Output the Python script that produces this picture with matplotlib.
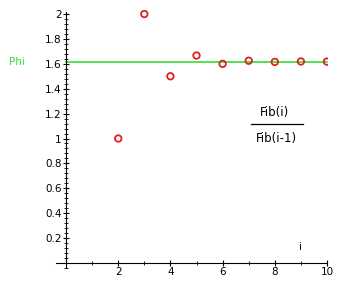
import matplotlib.pyplot as plt
from matplotlib.ticker import MultipleLocator

# Ratio of consecutive Fibonacci numbers
i_vals = [2, 3, 4, 5, 6, 7, 8, 9, 10]
ratios = [1.0, 2.0, 1.5, 1.6667, 1.6, 1.625, 1.6154, 1.6190, 1.6176]
phi = 1.618

fig = plt.figure(figsize=(3.53, 2.90), dpi=100)
ax = fig.add_axes([0.1575, 0.0717, 0.7725, 0.8928])

ax.plot([0, 10], [phi, phi], color='#33dd33', lw=1.2, zorder=1)
ax.scatter(i_vals, ratios, s=22, facecolors='none', edgecolors='#e02020',
           linewidths=1.3, zorder=3)

ax.set_xlim(-0.4, 10.05)
ax.set_ylim(-0.05, 2.03)

ax.spines['left'].set_position(('data', 0))
ax.spines['bottom'].set_position(('data', 0))
ax.spines['top'].set_visible(False)
ax.spines['right'].set_visible(False)
ax.spines['left'].set_bounds(-0.04, 2.02)
ax.spines['bottom'].set_bounds(-0.4, 10)

ax.xaxis.set_minor_locator(MultipleLocator(1))
ax.yaxis.set_minor_locator(MultipleLocator(0.04))

ax.set_xticks([2, 4, 6, 8, 10])
ax.set_xticklabels(['2', '4', '6', '8', '10'])
yt = [0.2, 0.4, 0.6, 0.8, 1.0, 1.2, 1.4, 1.6, 1.8, 2.0]
ax.set_yticks(yt)
ax.set_yticklabels(['0.2', '0.4', '0.6', '0.8', '1', '1.2', '1.4', '1.6', '1.8', '2'])

ax.tick_params(axis='both', which='major', labelsize=7.5, length=4, width=0.8,
               direction='inout', pad=1)
ax.tick_params(axis='both', which='minor', length=2.5, width=0.6, direction='inout')

ax.text(-1.9, phi, 'Phi', color='#33dd33', fontsize=7.5, ha='center', va='center',
        clip_on=False)
ax.text(8.0, 1.205, 'Fib(i)', fontsize=8.5, ha='center', va='center')
ax.plot([7.1, 9.1], [1.12, 1.12], color='black', lw=0.9)
ax.text(8.08, 1.0, 'Fib(i-1)', fontsize=8.5, ha='center', va='center')
ax.text(9.0, 0.13, 'i', fontsize=7.5, ha='center', va='center')

fig.savefig('out.png', dpi=100)
